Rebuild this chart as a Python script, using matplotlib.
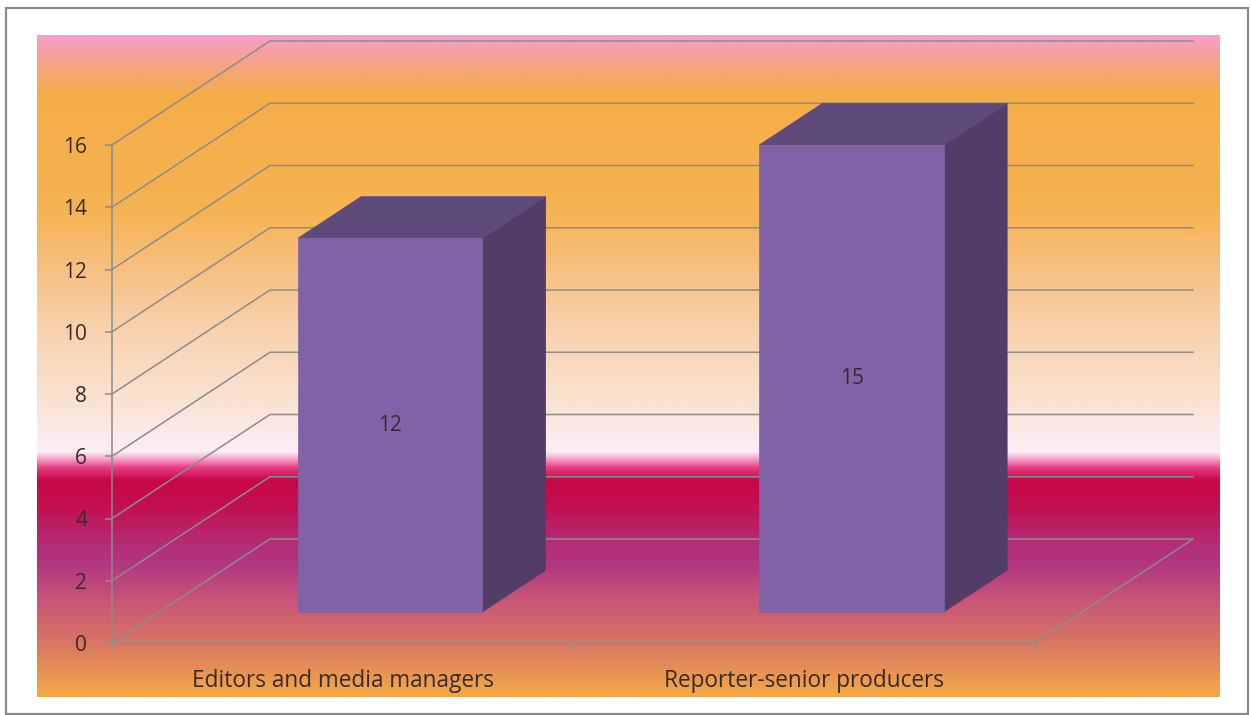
import numpy as np
import matplotlib
matplotlib.use("Agg")
import matplotlib.pyplot as plt
from matplotlib.patches import Polygon, Rectangle

# ---- data ----
categories = ["Editors and media managers", "Reporter-senior producers"]
values = [12, 15]
y_ticks = [0, 2, 4, 6, 8, 10, 12, 14, 16]

# ---- layout / style ----
W, H = 1251, 715
FONT = "Open Sans"
FONT_SIZE = 15
CAT_FONT_SIZE = 16.3
TEXT_COLOR = "#3a2a2a"
GRID_COLOR = "#8c8c8c"
FRONT_COLOR = "#8063a6"
TOP_COLOR = "#5f4a7c"
SIDE_COLOR = "#513d68"

# oblique depth vector (per unit of depth) in data units
DEPTH_DX = 158 / 461.5     # categories
DEPTH_DY = 104 / 31.125    # value units
BAR_D0, BAR_D1 = 0.3, 0.7  # bar depth span
BAR_W = 0.4                # bar width as a fraction of a category

plt.rcParams["font.family"] = [FONT, "DejaVu Sans"]

fig = plt.figure(figsize=(W / 100, H / 100), dpi=100)
fig.patch.set_facecolor("white")

# outer frame
fig.patches.append(Rectangle((6 / W, 1 - 714 / H), 1242 / W, 706 / H,
                             transform=fig.transFigure, fill=False,
                             edgecolor="#8a8a8a", linewidth=1.6))

# ---- gradient panel behind the plot ----
panel_top, panel_bot = 35, 697
stops = [
    (35, (246, 158, 206)),
    (50, (246, 160, 165)),
    (70, (245, 166, 120)),
    (95, (245, 173, 72)),
    (210, (246, 179, 82)),
    (260, (246, 190, 122)),
    (330, (248, 210, 175)),
    (400, (250, 226, 210)),
    (440, (250, 236, 240)),
    (452, (250, 238, 244)),
    (460, (245, 150, 195)),
    (468, (230, 60, 130)),
    (480, (200, 8, 72)),
    (505, (195, 15, 80)),
    (545, (180, 45, 120)),
    (565, (178, 55, 128)),
    (600, (200, 85, 120)),
    (640, (215, 115, 100)),
    (670, (230, 145, 85)),
    (697, (245, 170, 70)),
]
rows = np.arange(panel_top, panel_bot + 1)
sy = np.array([s[0] for s in stops], dtype=float)
sc = np.array([s[1] for s in stops], dtype=float) / 255.0
grad = np.stack([np.interp(rows, sy, sc[:, k]) for k in range(3)], axis=-1)
grad = grad[:, None, :]

bg = fig.add_axes([37 / W, 1 - panel_bot / H, (1220 - 37) / W,
                   (panel_bot - panel_top) / H])
bg.imshow(grad, aspect="auto", extent=[0, 1, 0, 1], interpolation="bilinear")
bg.set_axis_off()

# ---- main (front plane) axes ----
ax = fig.add_axes([112 / W, 1 - 643 / H, 923 / W, 498 / H])
ax.set_xlim(0, len(categories))
ax.set_ylim(y_ticks[0], y_ticks[-1])
ax.patch.set_alpha(0)


def proj(x, v, d):
    """Oblique projection of (category pos, value, depth) onto the front plane."""
    return x + d * DEPTH_DX, v + d * DEPTH_DY


n = len(categories)
# side wall and back wall gridlines
for v in y_ticks:
    p0 = proj(0, v, 0)
    p1 = proj(0, v, 1)
    p2 = proj(n, v, 1)
    ax.plot([p0[0], p1[0], p2[0]], [p0[1], p1[1], p2[1]],
            color=GRID_COLOR, lw=1.1, zorder=1, clip_on=False,
            solid_joinstyle="miter")
# right edge of the floor
f0, f1 = proj(n, 0, 0), proj(n, 0, 1)
ax.plot([f0[0], f1[0]], [f0[1], f1[1]], color=GRID_COLOR, lw=1.1,
        zorder=1, clip_on=False)

# ---- 3D columns ----
for i, v in enumerate(values):
    x0 = i + (1 - BAR_W) / 2
    x1 = x0 + BAR_W
    side = [proj(x1, 0, BAR_D0), proj(x1, v, BAR_D0),
            proj(x1, v, BAR_D1), proj(x1, 0, BAR_D1)]
    top = [proj(x0, v, BAR_D0), proj(x1, v, BAR_D0),
           proj(x1, v, BAR_D1), proj(x0, v, BAR_D1)]
    front = [proj(x0, 0, BAR_D0), proj(x1, 0, BAR_D0),
             proj(x1, v, BAR_D0), proj(x0, v, BAR_D0)]
    for pts, col in ((side, SIDE_COLOR), (top, TOP_COLOR), (front, FRONT_COLOR)):
        ax.add_patch(Polygon(pts, closed=True, facecolor=col, edgecolor=col,
                             linewidth=0.5, zorder=3, clip_on=False))
    lx, ly = proj(i + 0.5, v / 2, BAR_D0)
    ax.text(lx, ly, f"{v}", ha="center", va="center", fontsize=FONT_SIZE,
            color=TEXT_COLOR, zorder=4)

# ---- axes styling ----
for s in ("top", "right"):
    ax.spines[s].set_visible(False)
for s in ("left", "bottom"):
    ax.spines[s].set_color(GRID_COLOR)
    ax.spines[s].set_linewidth(1.1)
    ax.spines[s].set_zorder(2)

ax.set_yticks(y_ticks)
ax.set_yticklabels([str(t) for t in y_ticks])
ax.tick_params(axis="y", direction="out", length=5, width=1.1,
               color=GRID_COLOR, labelsize=FONT_SIZE, labelcolor=TEXT_COLOR,
               pad=13)

ax.set_xticks(np.arange(n + 1))
ax.set_xticklabels([""] * (n + 1))
ax.set_xticks(np.arange(n) + 0.5, minor=True)
ax.set_xticklabels(categories, minor=True)
ax.tick_params(axis="x", which="major", direction="out", length=5,
               width=1.1, color=GRID_COLOR)
ax.tick_params(axis="x", which="minor", length=0, labelsize=CAT_FONT_SIZE,
               labelcolor=TEXT_COLOR, pad=19)

fig.savefig("out.png", dpi=100, facecolor="white")
